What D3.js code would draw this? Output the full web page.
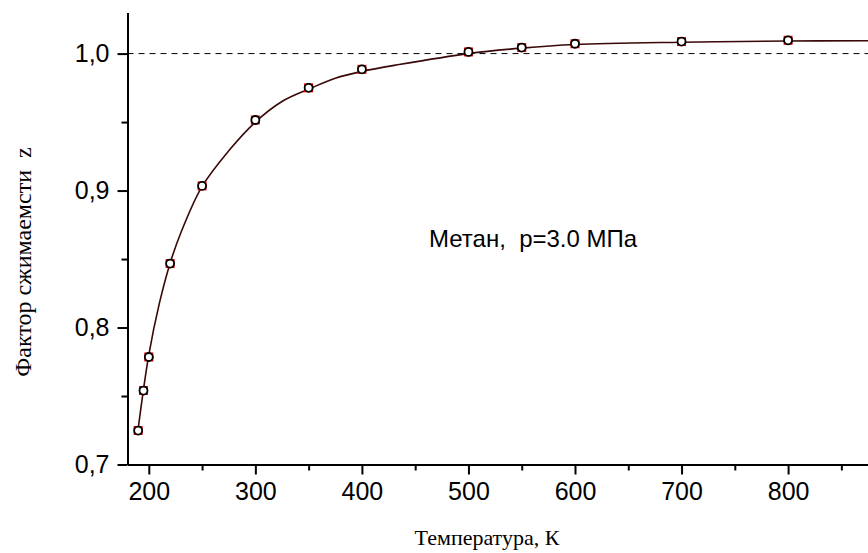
<!DOCTYPE html>
<html>
<head>
<meta charset="utf-8">
<script src="https://cdn.jsdelivr.net/npm/d3@7"></script>
<style>
  body { margin: 0; background: #fff; }
  svg { display: block; }
  text { white-space: pre; }
</style>
</head>
<body>
<script>
// measured points
var tempK = [190, 195, 200, 220, 250, 300, 350, 400, 500, 550, 600, 700, 800];
var zVals = [0.7248, 0.754, 0.7785, 0.8467, 0.9034, 0.9515, 0.975, 0.9885, 1.0012, 1.0044, 1.0072, 1.0088, 1.0097];

// fitted curve
var curveT = [190, 200, 210, 220, 230, 250, 275, 300, 325, 350, 375, 400, 435, 500, 550, 600, 700, 800, 875];
var curveZ = [0.726, 0.780, 0.818, 0.847, 0.869, 0.903, 0.929, 0.950, 0.965, 0.974, 0.982, 0.987, 0.992, 1.000, 1.004, 1.0066, 1.0083, 1.0092, 1.0094];

var xTicks = [200, 300, 400, 500, 600, 700, 800];
var xMinor = [250, 350, 450, 550, 650, 750, 850];
var yTicks = [0.7, 0.8, 0.9, 1.0];
var yMinor = [0.75, 0.85, 0.95];

var W = 868, H = 553;
var X0 = 127.5, X1 = 868, Y0 = 464.5, Y1 = 12.5;

var svg = d3.select("body").append("svg")
    .attr("width", W)
    .attr("height", H);

var x = d3.scaleLinear().domain([180, 875]).range([X0, X1]);
var y = d3.scaleLinear().domain([0.7, 1.03]).range([Y0, Y1]);

var fmt = function(d){ return d3.format(".1f")(d).replace(".", ","); };

// reference line z = 1
svg.append("line")
    .attr("x1", X0).attr("x2", W)
    .attr("y1", y(1)).attr("y2", y(1))
    .style("stroke", "black")
    .style("stroke-width", 1)
    .style("stroke-dasharray", "6,5");

// x axis
svg.append("g")
    .attr("transform", "translate(0," + Y0 + ")")
    .call(d3.axisBottom(x).tickValues(xTicks).tickSize(10).tickPadding(8).tickSizeOuter(0));
svg.append("g")
    .attr("transform", "translate(0," + Y0 + ")")
    .call(d3.axisBottom(x).tickValues(xMinor).tickSize(6).tickFormat("").tickSizeOuter(0));

// y axis
svg.append("g")
    .attr("transform", "translate(" + X0 + ",0)")
    .call(d3.axisLeft(y).tickValues(yTicks).tickSize(10).tickPadding(8).tickFormat(fmt).tickSizeOuter(0));
svg.append("g")
    .attr("transform", "translate(" + X0 + ",0)")
    .call(d3.axisLeft(y).tickValues(yMinor).tickSize(6).tickFormat("").tickSizeOuter(0));

svg.selectAll(".domain").style("stroke-width", 2);
svg.selectAll(".tick line").style("stroke-width", 2);
svg.selectAll(".tick text")
    .style("font-family", "'Liberation Sans', Arial, sans-serif")
    .style("font-size", "25px")
    .style("fill", "black");

// fitted curve
var line = d3.line()
    .x(function(d){ return x(d[0]); })
    .y(function(d){ return y(d[1]); })
    .curve(d3.curveCatmullRom.alpha(0.5));

svg.append("path")
    .datum(d3.zip(curveT, curveZ))
    .attr("d", line)
    .style("fill", "none")
    .style("stroke", "#3a0808")
    .style("stroke-width", 1.6);

// markers: red square under white circle
var pts = d3.zip(tempK, zVals);
svg.selectAll("rect.mk").data(pts).enter().append("rect")
    .attr("class", "mk")
    .attr("x", function(d){ return x(d[0]) - 4.5; })
    .attr("y", function(d){ return y(d[1]) - 4.5; })
    .attr("width", 9).attr("height", 9)
    .style("fill", "#e00000");
svg.selectAll("circle.mk").data(pts).enter().append("circle")
    .attr("class", "mk")
    .attr("cx", function(d){ return x(d[0]); })
    .attr("cy", function(d){ return y(d[1]); })
    .attr("r", 4)
    .style("fill", "white")
    .style("stroke", "black")
    .style("stroke-width", 1.8);

// labels
svg.append("text")
    .attr("x", 429).attr("y", 247)
    .style("font-family", "'Liberation Sans', Arial, sans-serif")
    .style("font-size", "24px")
    .text("Метан,  p=3.0 МПа");

svg.append("text")
    .attr("x", 487).attr("y", 545)
    .attr("text-anchor", "middle")
    .style("font-family", "'Liberation Serif', 'Times New Roman', serif")
    .style("font-size", "22px")
    .text("Температура, К");

svg.append("text")
    .attr("transform", "translate(31,262) rotate(-90)")
    .attr("text-anchor", "middle")
    .style("font-family", "'Liberation Serif', 'Times New Roman', serif")
    .style("font-size", "24px")
    .text("Фактор сжимаемсти  z");
</script>
</body>
</html>
